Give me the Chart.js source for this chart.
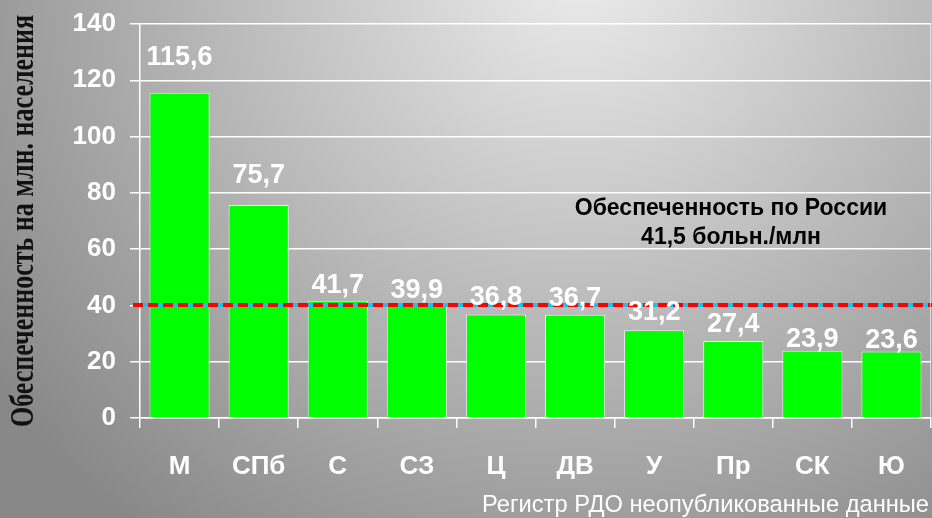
<!DOCTYPE html>
<html>
<head>
<meta charset="utf-8">
<script src="https://cdn.jsdelivr.net/npm/chart.js@4"></script>
<style>
html,body{margin:0;padding:0;background:#a0a0a0;}
#wrap{width:932px;height:518px;position:relative;}
</style>
</head>
<body>
<div id="wrap"><canvas id="c" width="932" height="518"></canvas></div>
<script>
const categories = ['М','СПб','С','СЗ','Ц','ДВ','У','Пр','СК','Ю'];
const values = [115.6, 75.7, 41.7, 39.9, 36.8, 36.7, 31.2, 27.4, 23.9, 23.6];
const valueLabels = ['115,6','75,7','41,7','39,9','36,8','36,7','31,2','27,4','23,9','23,6'];
const yTicks = [0, 20, 40, 60, 80, 100, 120, 140];
const referenceLine = [40.2];
const annotationLines = ['Обеспеченность по России', '41,5 больн./млн'];
const yTitle = 'Обеспеченность на млн. населения';
const footnote = 'Регистр РДО неопубликованные данные';

const SANS = '"Liberation Sans", Arial, sans-serif';

const bgPlugin = {
  id: 'bg',
  beforeDraw(chart) {
    const ctx = chart.ctx;
    const w = chart.width, h = chart.height;
    ctx.save();
    const g = ctx.createRadialGradient(580, -40, 10, 580, -40, 720);
    g.addColorStop(0, '#ebebeb');
    g.addColorStop(0.55, '#b4b4b4');
    g.addColorStop(1, '#888888');
    ctx.fillStyle = g;
    ctx.fillRect(0, 0, w, h);
    ctx.restore();
  }
};

const overlayPlugin = {
  id: 'overlay',
  afterDatasetsDraw(chart) {
    const ctx = chart.ctx;
    const meta = chart.getDatasetMeta(0);
    const ys = chart.scales.y;
    const area = chart.chartArea;
    ctx.save();
    // reference line
    const yr = Math.round(ys.getPixelForValue(referenceLine[0]));
    ctx.lineWidth = 4;
    ctx.strokeStyle = '#19c3f0';
    ctx.beginPath();
    ctx.moveTo(area.left - 7, yr);
    ctx.lineTo(chart.width, yr);
    ctx.stroke();
    ctx.strokeStyle = '#ff0000';
    ctx.setLineDash([10, 5]);
    ctx.beginPath();
    ctx.moveTo(area.left - 7, yr);
    ctx.lineTo(chart.width, yr);
    ctx.stroke();
    ctx.setLineDash([]);
    // value labels
    ctx.font = 'bold 27px ' + SANS;
    ctx.fillStyle = '#ffffff';
    ctx.textAlign = 'center';
    ctx.textBaseline = 'alphabetic';
    const gaps = [28, 22, 8, 8, 9, 9, 10, 9, 4, 4];
    meta.data.forEach((bar, i) => {
      ctx.fillText(valueLabels[i], bar.x, bar.y - gaps[i]);
    });
    // annotation
    ctx.fillStyle = '#000000';
    ctx.font = 'bold 23px ' + SANS;
    ctx.textBaseline = 'middle';
    ctx.fillText(annotationLines[0], 731, 209);
    ctx.fillText(annotationLines[1], 731, 238);
    // footnote
    ctx.fillStyle = '#ffffff';
    ctx.font = '23.7px ' + SANS;
    ctx.textAlign = 'right';
    ctx.fillText(footnote, 929, 505);
    // right border
    ctx.strokeStyle = 'rgba(255,255,255,0.6)';
    ctx.lineWidth = 1;
    ctx.beginPath();
    ctx.moveTo(area.right - 0.5, area.top);
    ctx.lineTo(area.right - 0.5, area.bottom);
    ctx.stroke();
    // y title
    ctx.save();
    ctx.translate(33, (area.top + area.bottom) / 2);
    ctx.rotate(-Math.PI / 2);
    ctx.scale(1, 1.3);
    ctx.fillStyle = '#111111';
    ctx.font = 'bold 26px "Liberation Serif", "Times New Roman", serif';
    ctx.textAlign = 'center';
    ctx.textBaseline = 'alphabetic';
    ctx.fillText(yTitle, 0, 0);
    ctx.restore();
    ctx.restore();
  }
};

new Chart(document.getElementById('c'), {
  type: 'bar',
  data: {
    labels: categories,
    datasets: [{
      data: values,
      backgroundColor: '#00ff00',
      borderColor: 'rgba(255,255,255,0.75)',
      borderWidth: 1,
      barPercentage: 0.76,
      categoryPercentage: 1.0
    }]
  },
  options: {
    responsive: false,
    animation: false,
    devicePixelRatio: 1,
    layout: { padding: { top: 24, right: 1, left: 0, bottom: 0 } },
    plugins: { legend: { display: false }, tooltip: { enabled: false } },
    scales: {
      x: {
        afterFit(scale) { scale.height = 100; },
        grid: { display: true, drawOnChartArea: false, drawTicks: true, tickLength: 10, color: '#ffffff', lineWidth: 1.5, offset: true },
        border: { display: true, color: '#ffffff', width: 1.5 },
        ticks: { color: '#ffffff', font: { family: SANS, size: 26, weight: 'bold' }, padding: 23, maxRotation: 0 }
      },
      y: {
        min: 0, max: 140,
        afterFit(scale) { scale.width = 140; scale.paddingTop = 0; scale.paddingBottom = 0; },
        afterBuildTicks(scale) { scale.ticks = yTicks.map(v => ({ value: v })); },
        grid: { color: '#ffffff', lineWidth: 1.5, tickLength: 10, drawTicks: true },
        border: { display: true, color: '#ffffff', width: 1.5 },
        ticks: { color: '#ffffff', font: { family: SANS, size: 26, weight: 'bold', lineHeight: 0.8 }, padding: 14 },
        title: { display: false }
      }
    }
  },
  plugins: [bgPlugin, overlayPlugin]
});
</script>
</body>
</html>
